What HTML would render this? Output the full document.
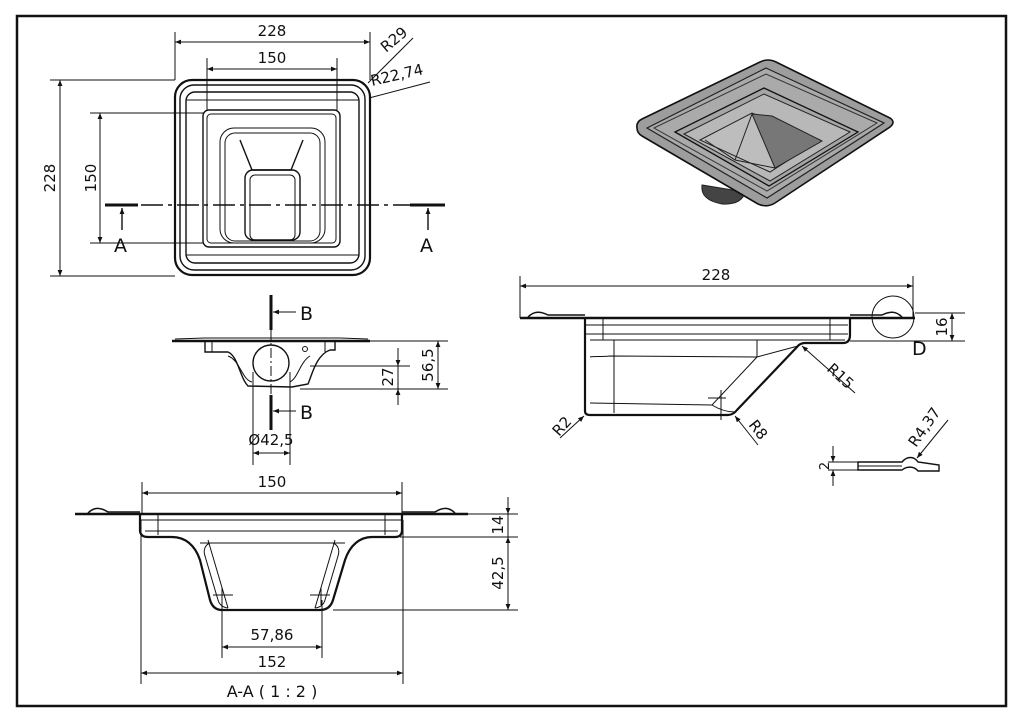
<!DOCTYPE html>
<html><head><meta charset="utf-8"><style>
html,body{margin:0;padding:0;background:#fff;}
svg{display:block;}
text{font-family:"DejaVu Sans","Liberation Sans",sans-serif;font-size:15px;fill:#111;}
.t{stroke:#111;stroke-width:1;fill:none;}
.k{stroke:#111;stroke-width:2.2;fill:none;}
.m{stroke:#111;stroke-width:1.4;fill:none;}
</style></head><body>
<svg width="1024" height="723" viewBox="0 0 1024 723" xmlns="http://www.w3.org/2000/svg">
<defs>
<marker id="a" viewBox="0 0 10 10" refX="10" refY="5" markerWidth="9" markerHeight="6" orient="auto-start-reverse" markerUnits="userSpaceOnUse"><path d="M0,1 L10,5 L0,9 z" fill="#111"/></marker>
</defs>
<rect x="17" y="16" width="989" height="690" fill="none" stroke="#111" stroke-width="2.5"/>

<!-- TOP VIEW -->
<g>
<rect x="175" y="80" width="195" height="195" rx="17" class="k"/>
<rect x="180" y="85" width="185" height="185" rx="14" class="m"/>
<rect x="186" y="92" width="173" height="171" rx="9" class="m"/>
<line x1="186" y1="100" x2="359" y2="100" class="t"/>
<line x1="186" y1="255" x2="359" y2="255" class="t"/>
<rect x="203" y="110" width="137" height="137" rx="6" class="m"/>
<rect x="207" y="114" width="129" height="129" rx="4" class="t"/>
<rect x="220" y="128" width="105" height="115" rx="14" class="t"/>
<rect x="225" y="133" width="95" height="108" rx="10" class="t"/>
<path d="M240,140 L252,170 L291,170 L303,140" class="m"/>
<rect x="245" y="170" width="55" height="70" rx="8" class="m"/>
<rect x="250" y="175" width="45" height="65" rx="5" class="t"/>
<line x1="175" y1="32" x2="175" y2="80" class="t"/>
<line x1="370" y1="32" x2="370" y2="80" class="t"/>
<line x1="175" y1="42" x2="370" y2="42" class="t" marker-start="url(#a)" marker-end="url(#a)"/>
<text x="272" y="36" text-anchor="middle">228</text>
<line x1="207" y1="58" x2="207" y2="110" class="t"/>
<line x1="337" y1="58" x2="337" y2="110" class="t"/>
<line x1="207" y1="69" x2="337" y2="69" class="t" marker-start="url(#a)" marker-end="url(#a)"/>
<text x="272" y="63" text-anchor="middle">150</text>
<line x1="50" y1="80" x2="175" y2="80" class="t"/>
<line x1="50" y1="276" x2="175" y2="276" class="t"/>
<line x1="60" y1="80" x2="60" y2="276" class="t" marker-start="url(#a)" marker-end="url(#a)"/>
<text transform="translate(55,178) rotate(-90)" text-anchor="middle">228</text>
<line x1="90" y1="113" x2="203" y2="113" class="t"/>
<line x1="90" y1="243" x2="203" y2="243" class="t"/>
<line x1="100" y1="113" x2="100" y2="243" class="t" marker-start="url(#a)" marker-end="url(#a)"/>
<text transform="translate(96,178) rotate(-90)" text-anchor="middle">150</text>
<line x1="368" y1="83" x2="413" y2="38" class="t"/>
<text transform="translate(386,53) rotate(-40)">R29</text>
<line x1="369" y1="98" x2="430" y2="82" class="t"/>
<text x="372" y="86" transform="rotate(-13 372 86)">R22,74</text>
<line x1="105" y1="205" x2="440" y2="205" stroke="#111" stroke-width="1.6" stroke-dasharray="22,5,4,5"/>
<line x1="105" y1="205" x2="138" y2="205" stroke="#111" stroke-width="3"/>
<line x1="410" y1="205" x2="445" y2="205" stroke="#111" stroke-width="3"/>
<line x1="122" y1="230" x2="122" y2="208" class="m" marker-end="url(#a)"/>
<line x1="428" y1="230" x2="428" y2="208" class="m" marker-end="url(#a)"/>
<text x="114" y="252" style="font-size:19px">A</text>
<text x="420" y="252" style="font-size:19px">A</text>
</g>

<!-- B-B VIEW -->
<g>
<path d="M172,341 L370,341" stroke="#111" stroke-width="2.5"/>
<path d="M175,339 L205,338 L340,338 L368,339" class="t"/>
<path d="M205,341 L205,352 L228,352 C238,356 240,378 248,386 L292,387 L308,384 C312,375 316,355 330,350 L335,350 L335,341" class="m"/>
<path d="M212,341 L212,352 M325,341 L325,352" class="t"/>
<path d="M228,356 C240,360 242,380 252,382 M310,356 C300,362 298,378 290,382" class="t"/>
<circle cx="271" cy="363" r="18" class="m"/>
<circle cx="305" cy="349" r="2.5" class="t"/>
<line x1="271" y1="295" x2="271" y2="330" stroke="#111" stroke-width="3"/>
<line x1="271" y1="395" x2="271" y2="430" stroke="#111" stroke-width="3"/>
<line x1="271" y1="330" x2="271" y2="395" stroke="#111" stroke-width="1" stroke-dasharray="10,3,2,3"/>
<line x1="296" y1="312" x2="273" y2="312" class="t" marker-end="url(#a)"/>
<line x1="296" y1="411" x2="273" y2="411" class="t" marker-end="url(#a)"/>
<text x="300" y="320" style="font-size:19px">B</text>
<text x="300" y="419" style="font-size:19px">B</text>
<line x1="370" y1="341" x2="448" y2="341" class="t"/>
<line x1="300" y1="389" x2="448" y2="389" class="t"/>
<line x1="310" y1="366" x2="410" y2="366" class="t"/>
<line x1="438" y1="341" x2="438" y2="389" class="t" marker-start="url(#a)" marker-end="url(#a)"/>
<text transform="translate(433,365) rotate(-90)" text-anchor="middle">56,5</text>
<line x1="398" y1="348" x2="398" y2="366" class="t" marker-end="url(#a)"/>
<line x1="398" y1="405" x2="398" y2="389" class="t" marker-end="url(#a)"/>
<line x1="398" y1="366" x2="398" y2="389" class="t"/>
<text transform="translate(393,377) rotate(-90)" text-anchor="middle">27</text>
<line x1="253" y1="372" x2="253" y2="465" class="t"/>
<line x1="290" y1="372" x2="290" y2="465" class="t"/>
<line x1="253" y1="453" x2="290" y2="453" class="t" marker-start="url(#a)" marker-end="url(#a)"/>
<text x="271" y="445" text-anchor="middle">Ø42,5</text>
</g>

<!-- SECTION A-A -->
<g>
<line x1="75" y1="514" x2="468" y2="514" stroke="#111" stroke-width="2.5"/>
<path d="M88,513 C94,507 100,507 108,512 L140,512 M402,512 L435,512 C443,507 449,507 455,513" stroke="#111" stroke-width="1.5" fill="none"/>
<path d="M140,514 L140,530 Q140,537 148,537 L172,537 C185,537 195,545 200,560 L210,600 Q213,610 222,610 L320,610 Q330,610 333,600 L345,560 C350,545 360,537 372,537 L395,537 Q402,537 402,530 L402,514" class="k"/>
<line x1="140" y1="520" x2="402" y2="520" class="t"/>
<line x1="145" y1="531" x2="398" y2="531" class="t"/>
<line x1="158" y1="514" x2="158" y2="535" class="t"/>
<line x1="385" y1="514" x2="385" y2="535" class="t"/>
<line x1="200" y1="543" x2="345" y2="543" class="t"/>
<path d="M210,543 C205,545 203,550 205,556 L218,600 Q220,607 228,608 M333,543 C338,545 340,550 338,556 L325,600 Q323,607 315,608" class="t"/>
<path d="M208,540 L228,608 M335,540 L315,608" class="t"/>
<path d="M213,595 L233,595 M222,588 L222,605 M310,595 L330,595 M321,588 L321,605" class="t"/>
<line x1="142" y1="482" x2="142" y2="514" class="t"/>
<line x1="402" y1="482" x2="402" y2="514" class="t"/>
<line x1="142" y1="493" x2="402" y2="493" class="t" marker-start="url(#a)" marker-end="url(#a)"/>
<text x="272" y="487" text-anchor="middle">150</text>
<line x1="468" y1="514" x2="518" y2="514" class="t"/>
<line x1="400" y1="537" x2="518" y2="537" class="t"/>
<line x1="333" y1="610" x2="518" y2="610" class="t"/>
<line x1="508" y1="497" x2="508" y2="514" class="t" marker-end="url(#a)"/>
<line x1="508" y1="514" x2="508" y2="537" class="t"/>
<line x1="508" y1="537" x2="508" y2="610" class="t" marker-start="url(#a)" marker-end="url(#a)"/>
<text transform="translate(503,525) rotate(-90)" text-anchor="middle">14</text>
<text transform="translate(503,573) rotate(-90)" text-anchor="middle">42,5</text>
<line x1="222" y1="600" x2="222" y2="658" class="t"/>
<line x1="322" y1="600" x2="322" y2="658" class="t"/>
<line x1="222" y1="647" x2="322" y2="647" class="t" marker-start="url(#a)" marker-end="url(#a)"/>
<text x="272" y="640" text-anchor="middle">57,86</text>
<line x1="141" y1="520" x2="141" y2="684" class="t"/>
<line x1="403" y1="520" x2="403" y2="684" class="t"/>
<line x1="141" y1="673" x2="403" y2="673" class="t" marker-start="url(#a)" marker-end="url(#a)"/>
<text x="272" y="667" text-anchor="middle">152</text>
<text x="272" y="697" text-anchor="middle" style="font-size:16px">A-A ( 1 : 2 )</text>
</g>

<!-- RIGHT SIDE VIEW -->
<g>
<line x1="520" y1="318" x2="915" y2="318" stroke="#111" stroke-width="2.5"/>
<path d="M528,317 C534,311 540,311 548,315 L585,315 M850,315 L882,315 C890,311 896,311 902,317" stroke="#111" stroke-width="1.5" fill="none"/>
<path d="M585,318 L585,411 Q585,415 590,415 L728,415 Q733,415 737,410 L797,347 Q800,343 805,343 L843,343 Q850,343 850,335 L850,318" class="k"/>
<line x1="586" y1="325" x2="848" y2="325" class="t"/>
<line x1="586" y1="334" x2="848" y2="334" class="t"/>
<line x1="590" y1="340" x2="845" y2="340" class="t"/>
<line x1="603" y1="318" x2="603" y2="340" class="t"/>
<line x1="830" y1="318" x2="830" y2="340" class="t"/>
<line x1="614" y1="340" x2="614" y2="413" class="t"/>
<line x1="757" y1="340" x2="757" y2="357" class="t"/>
<path d="M590,357 C595,356 600,357 610,356 L757,357 L798,346 M590,403 L712,405 L757,357" class="t"/>
<path d="M712,405 C720,410 728,412 735,412 M708,398 L726,398 M721,390 L721,420" class="t"/>
<line x1="520" y1="276" x2="520" y2="318" class="t"/>
<line x1="913" y1="276" x2="913" y2="318" class="t"/>
<line x1="520" y1="286" x2="913" y2="286" class="t" marker-start="url(#a)" marker-end="url(#a)"/>
<text x="716" y="280" text-anchor="middle">228</text>
<circle cx="893" cy="317" r="21" class="t"/>
<line x1="915" y1="313" x2="965" y2="313" class="t"/>
<line x1="850" y1="341" x2="965" y2="341" class="t"/>
<line x1="952" y1="313" x2="952" y2="341" class="t" marker-start="url(#a)" marker-end="url(#a)"/>
<text transform="translate(947,327) rotate(-90)" text-anchor="middle">16</text>
<text x="912" y="355" style="font-size:19px">D</text>
<line x1="855" y1="393" x2="802" y2="346" class="t" marker-end="url(#a)"/>
<text transform="translate(826,370) rotate(42)">R15</text>
<line x1="758" y1="445" x2="735" y2="416" class="t" marker-end="url(#a)"/>
<text transform="translate(748,425) rotate(52)">R8</text>
<line x1="560" y1="438" x2="584" y2="416" class="t" marker-end="url(#a)"/>
<text transform="translate(559,437) rotate(-48)">R2</text>
</g>

<!-- DETAIL D -->
<g>
<path d="M858,462 L902,462 C907,456 914,456 918,462 L939,465 L939,471 L918,471 C914,466 907,466 902,470 L858,470 z" class="m"/>
<line x1="858" y1="466" x2="902" y2="466" class="t"/>
<line x1="828" y1="462" x2="858" y2="462" class="t"/>
<line x1="828" y1="470" x2="858" y2="470" class="t"/>
<line x1="833" y1="446" x2="833" y2="462" class="t" marker-end="url(#a)"/>
<line x1="833" y1="486" x2="833" y2="470" class="t" marker-end="url(#a)"/>
<text transform="translate(829,466) rotate(-90)" text-anchor="middle" style="font-size:13px">2</text>
<line x1="948" y1="420" x2="917" y2="458" class="t" marker-end="url(#a)"/>
<text transform="translate(916,448) rotate(-55)">R4,37</text>
</g>

<!-- ISO VIEW -->
<g>
<path d="M702,185 Q700,200 722,204 Q742,205 745,192 z" fill="#444" stroke="#222"/>
<path d="M637,128 Q636,122 642,119 L760,62 Q768,58 776,62 L890,118 Q896,122 890,127 L775,203 Q767,208 758,204 L642,136 Q637,133 637,128 z" fill="#9d9d9d" stroke="#111" stroke-width="1.6"/>
<path d="M647,128 L766,68 L884,123 L767,198 z" fill="#aaa" stroke="#222" stroke-width="1.2"/>
<path d="M654,128 L766,74 L877,123 L767,191 z" fill="none" stroke="#333"/>
<path d="M675,132 L764,88 L858,132 L769,186 z" fill="#a5a5a5" stroke="#111" stroke-width="1.3"/>
<path d="M684,134 L764,94 L850,132 L770,181 z" fill="#b8b8b8" stroke="#222"/>
<path d="M700,140 L752,113 L820,140 L770,172 z" fill="#bdbdbd" stroke="#222"/>
<path d="M752,114 L772,116 L822,141 L775,168 z" fill="#777" stroke="#222"/>
<path d="M705,140 L735,160 L775,168 M735,160 L752,114" stroke="#222" fill="none"/>
</g>
</svg>
</body></html>
